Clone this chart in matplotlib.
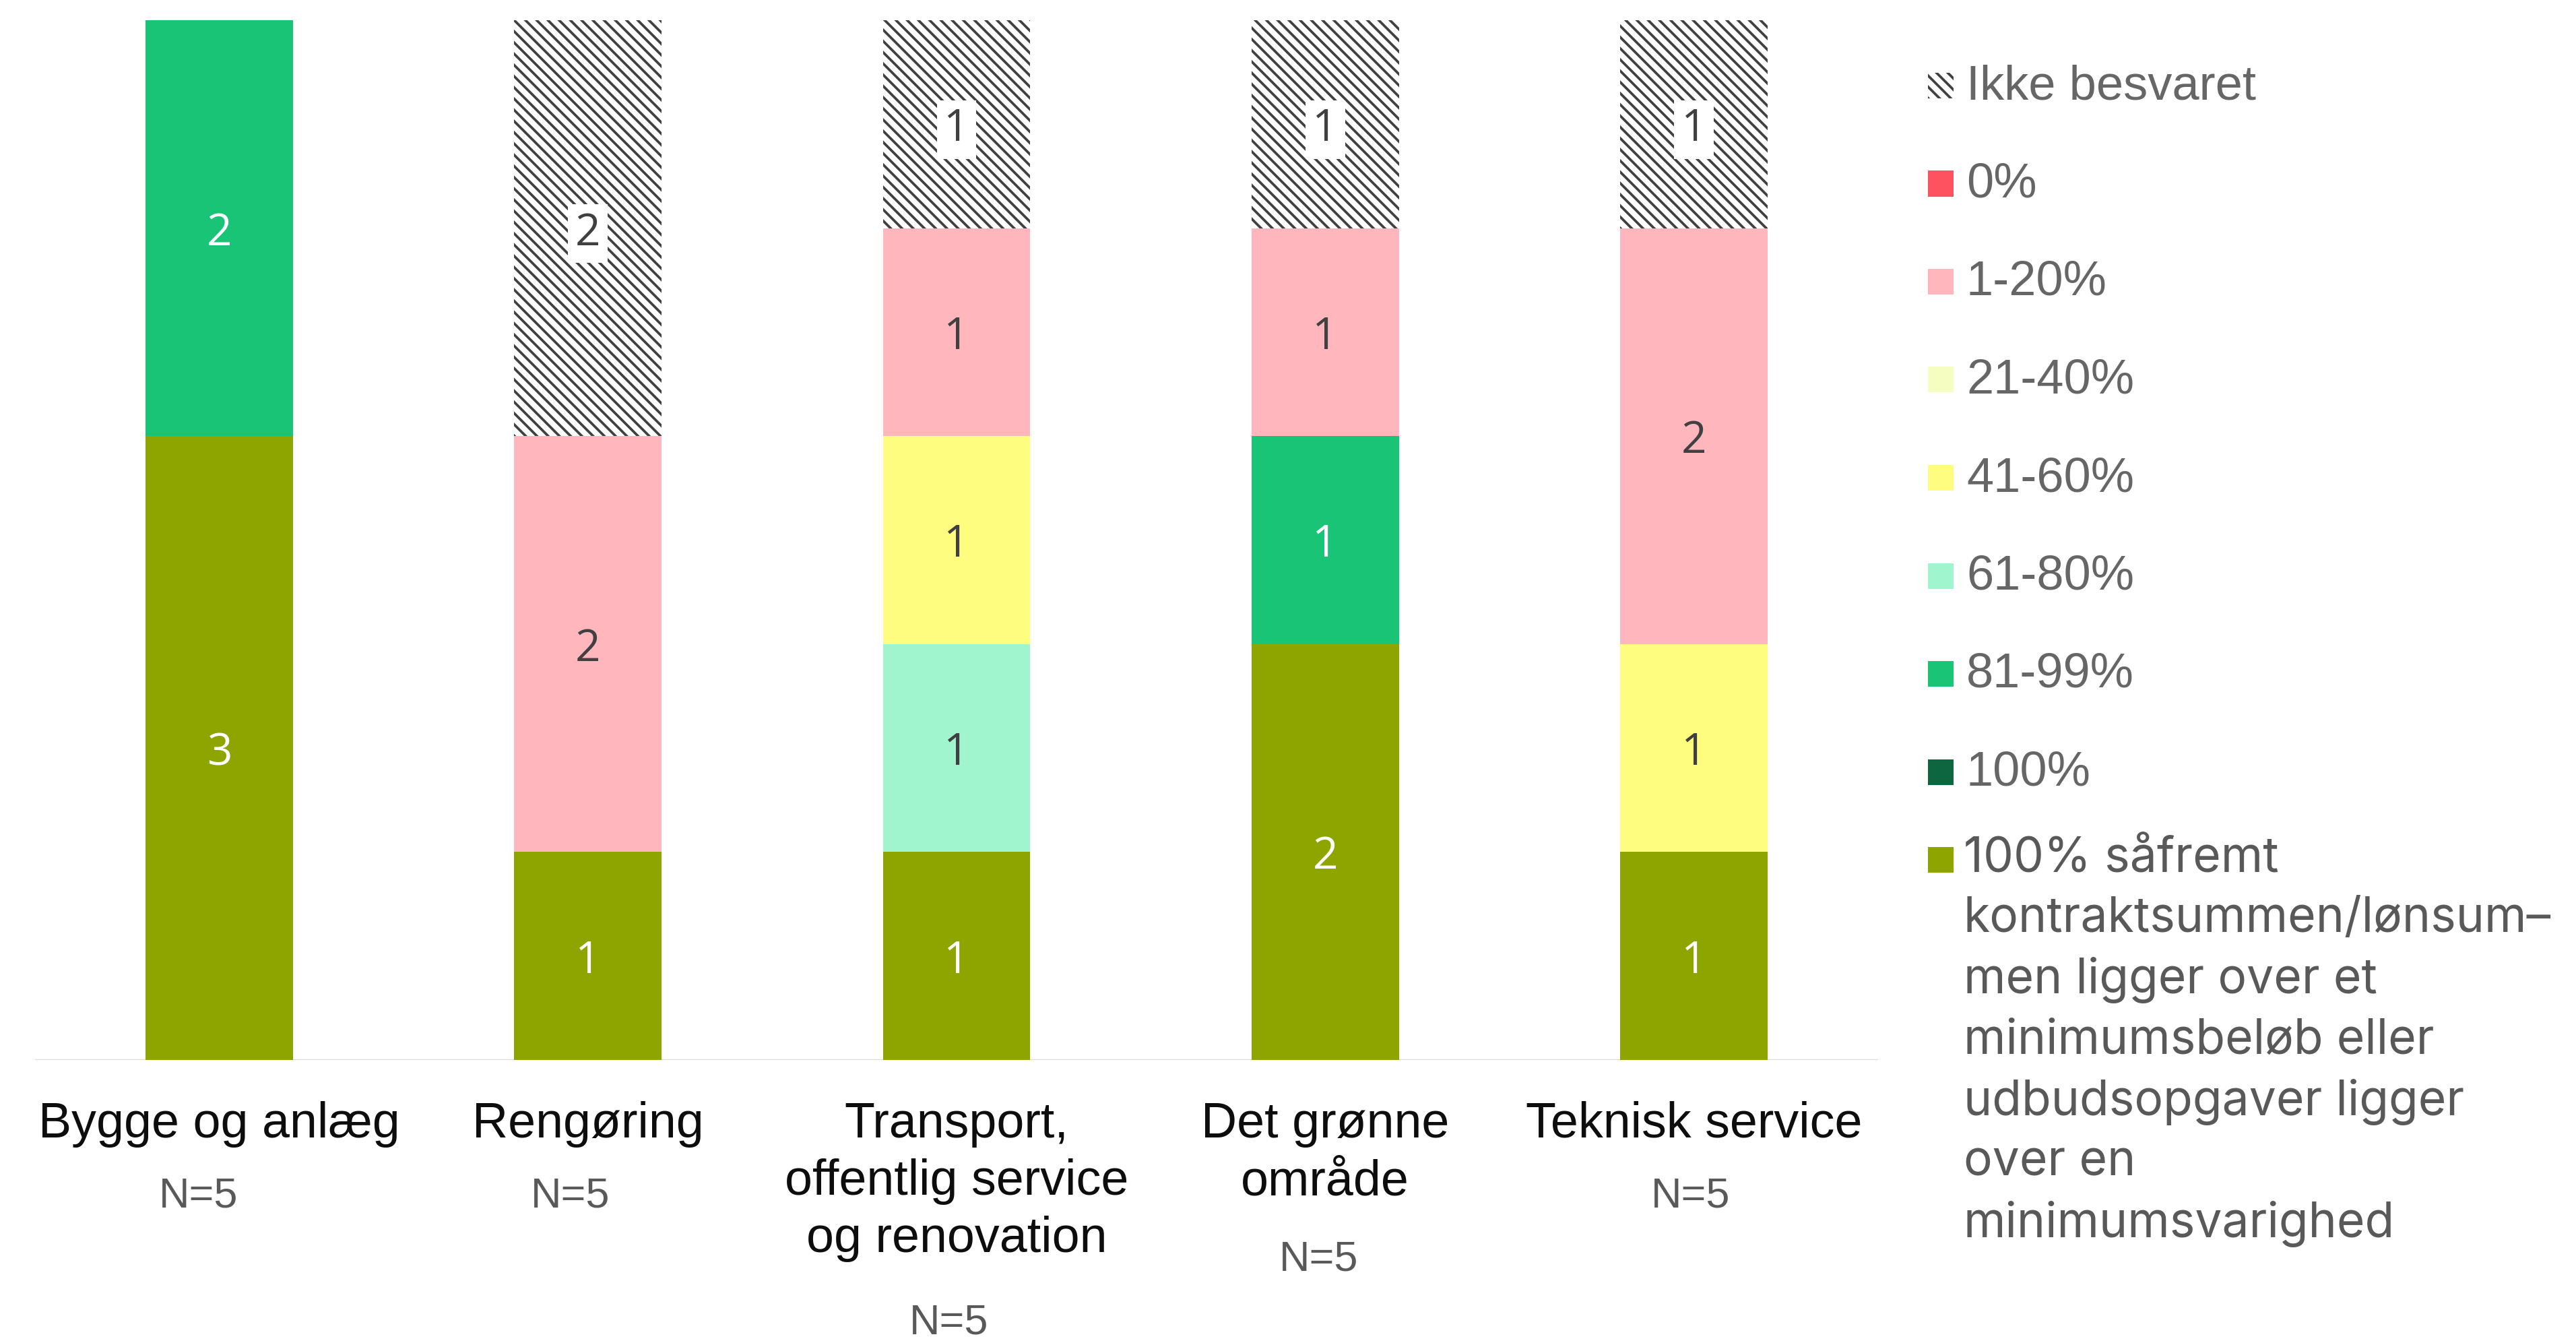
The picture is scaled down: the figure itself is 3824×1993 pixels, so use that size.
import matplotlib
matplotlib.use("Agg")
import matplotlib.pyplot as plt
import matplotlib.transforms as mtransforms
from matplotlib.patches import Rectangle

# ---------------- data ----------------
categories = ["Bygge og anlæg", "Rengøring",
              "Transport,\noffentlig service\nog renovation",
              "Det grønne\nområde", "Teknisk service"]
n_labels = ["N=5", "N=5", "N=5", "N=5", "N=5"]

series_names = [
    "100% såfremt\nkontraktsummen/lønsum–\nmen ligger over et\nminimumsbeløb eller\n"
    "udbudsopgaver ligger\nover en\nminimumsvarighed",
    "100%", "81-99%", "61-80%", "41-60%", "21-40%", "1-20%", "0%", "Ikke besvaret",
]
v_100_saafremt = [3, 1, 1, 2, 1]
v_100 = [0, 0, 0, 0, 0]
v_81_99 = [2, 0, 0, 1, 0]
v_61_80 = [0, 0, 1, 0, 0]
v_41_60 = [0, 0, 1, 0, 1]
v_21_40 = [0, 0, 0, 0, 0]
v_1_20 = [0, 2, 1, 1, 2]
v_0 = [0, 0, 0, 0, 0]
v_ikke = [0, 2, 1, 1, 1]
series_values = [v_100_saafremt, v_100, v_81_99, v_61_80, v_41_60,
                 v_21_40, v_1_20, v_0, v_ikke]

# ---------------- style ----------------
colors = ["#8EA500", "#0D6640", "#1AC477", "#A0F4CE", "#FFFD80",
          "#F5FDC0", "#FFB7BD", "#FF5260", "white"]
hatches = [None] * 8 + ["\\\\\\\\"]
value_text_colors = ["white", "white", "white", "#404040", "#404040",
                     "#404040", "#404040", "#404040", "#404040"]
HATCH_COLOR = "#404040"
n_offsets_px = [-31, -26, -11, -10, -5]

W, H, DPI = 3824, 1993, 200
plt.rcParams["hatch.linewidth"] = 1.35
plt.rcParams["font.family"] = ["Liberation Sans", "DejaVu Sans"]

fig = plt.figure(figsize=(W / DPI, H / DPI), dpi=DPI)
ax = fig.add_axes([52 / W, (H - 1573) / H, (2788 - 52) / W, (1573 - 30) / H])
ax.set_xlim(-0.5, len(categories) - 0.5)
ax.set_ylim(0, 5)
for s in ax.spines.values():
    s.set_visible(False)
ax.set_xticks([])
ax.set_yticks([])
ax.axhline(0, color="#D9D9D9", lw=0.8, zorder=0.5)

x = list(range(len(categories)))
bottom = [0] * len(categories)
for vals, col, hat, tcol in zip(series_values, colors, hatches, value_text_colors):
    ax.bar(x, vals, width=0.4, bottom=bottom, color=col, hatch=hat,
           edgecolor=HATCH_COLOR if hat else col, linewidth=0, zorder=2)
    for xi, b, v in zip(x, bottom, vals):
        if v > 0:
            kw = {}
            if hat:
                kw["bbox"] = dict(boxstyle="square,pad=0.16", facecolor="white",
                                  edgecolor="none")
            ax.text(xi, b + v / 2, str(v), ha="center", va="center_baseline",
                    color=tcol, fontsize=23.7, family=["Open Sans", "DejaVu Sans"],
                    zorder=3, **kw)
    bottom = [b + v for b, v in zip(bottom, vals)]

# category labels and N labels
blend = mtransforms.blended_transform_factory(ax.transData, fig.transFigure)
px_per_unit = (2788 - 52) / len(categories)
for xi, cat, nl, off in zip(x, categories, n_labels, n_offsets_px):
    ax.text(xi, 1 - 1634 / H, cat, transform=blend, ha="center", va="top",
            fontsize=26.5, color="#0D0D0D", linespacing=1.3)
    nlines = cat.count("\n") + 1
    ax.text(xi + off / px_per_unit, 1 - (1791 + 94 * (nlines - 1)) / H, nl,
            transform=blend, ha="center", va="baseline", fontsize=22.7,
            color="#595959")

# legend (top to bottom = reverse stack order)
order = list(range(len(series_names)))[::-1]
for i, si in enumerate(order):
    if i < 8:
        yc = 127 + 145.5 * i
    else:
        yc = 1275.5
    rect = Rectangle((2862 / W, 1 - (yc + 19) / H), 38 / W, 38 / H,
                     transform=fig.transFigure, facecolor=colors[si],
                     hatch=hatches[si],
                     edgecolor=HATCH_COLOR if hatches[si] else colors[si],
                     linewidth=0)
    fig.add_artist(rect)
    if i < 8:
        fig.text(2919 / W, 1 - (yc + 20) / H, series_names[si], va="baseline",
                 ha="left", fontsize=26, color="#666666")
    else:
        fig.text(2915 / W, 1 - 1240 / H, series_names[si], va="top", ha="left",
                 fontsize=25.7, color="#595959", linespacing=1.41,
                 family=["Inter", "DejaVu Sans"])

fig.savefig("out.png", dpi=DPI, facecolor="white")
